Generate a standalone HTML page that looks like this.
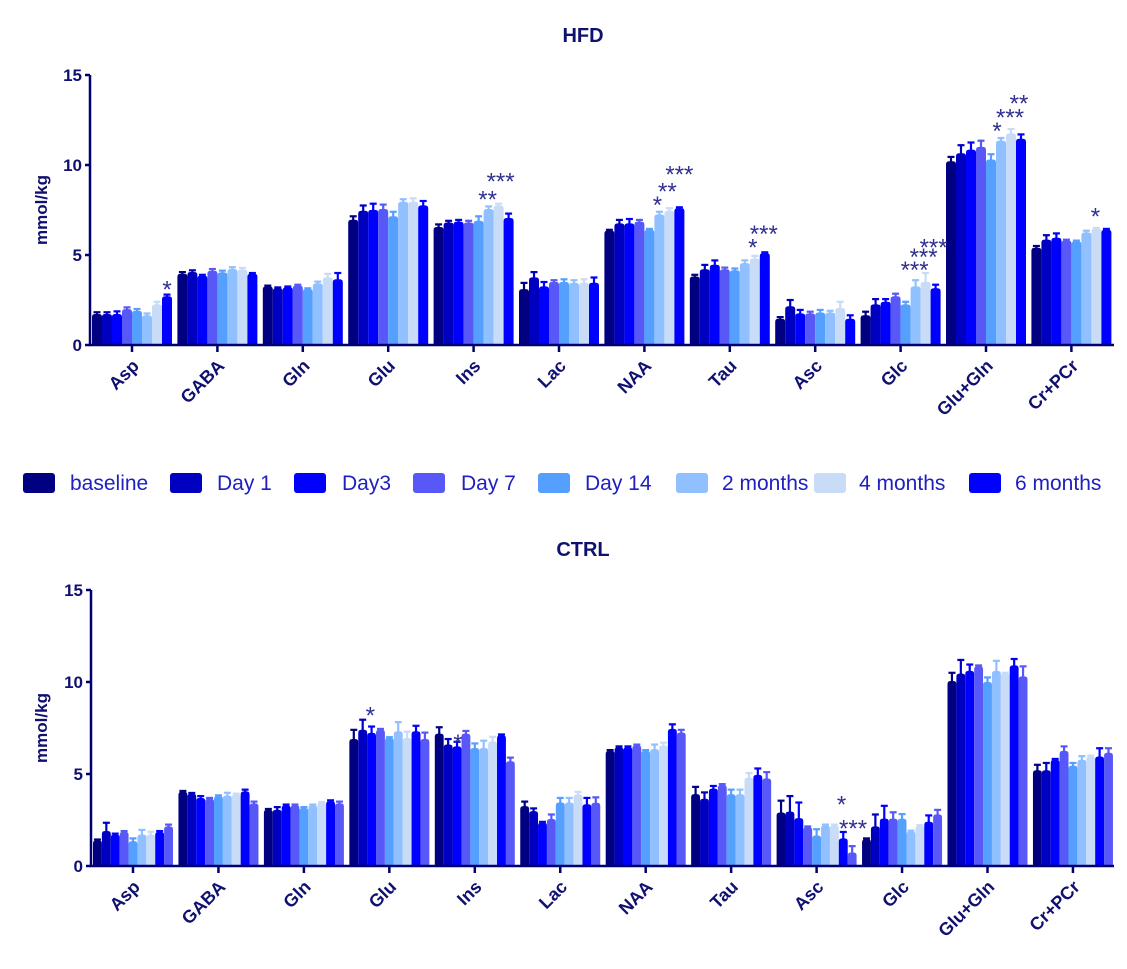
<!DOCTYPE html>
<html><head><meta charset="utf-8">
<style>
body{margin:0;background:#fff;}
svg{display:block;font-family:"Liberation Sans",Arial,sans-serif;}
</style></head>
<body>
<svg id="chart" width="1127" height="969" viewBox="0 0 1127 969" xmlns="http://www.w3.org/2000/svg"></svg>
<script>
const categories = ["Asp","GABA","Gln","Glu","Ins","Lac","NAA","Tau","Asc","Glc","Glu+Gln","Cr+PCr"];
const legendLabels = ["baseline","Day 1","Day3","Day 7","Day 14","2 months","4 months","6 months"];
const tickLabels = [0,5,10,15];
const hfdValues = [
 [1.67,1.67,1.67,1.94,1.85,1.6,2.2,2.65],
 [3.9,4.0,3.8,4.07,3.98,4.17,4.13,3.9],
 [3.2,3.1,3.15,3.25,3.05,3.37,3.7,3.6],
 [6.9,7.4,7.45,7.5,7.1,7.9,7.9,7.7],
 [6.5,6.75,6.8,6.75,6.85,7.5,7.7,7.0],
 [3.05,3.7,3.2,3.45,3.45,3.4,3.4,3.4],
 [6.3,6.7,6.7,6.8,6.35,7.2,7.4,7.55],
 [3.75,4.15,4.4,4.15,4.1,4.5,4.75,5.05],
 [1.4,2.1,1.7,1.7,1.75,1.75,2.0,1.4],
 [1.6,2.2,2.35,2.65,2.2,3.2,3.45,3.1],
 [10.15,10.6,10.8,10.95,10.25,11.3,11.7,11.4],
 [5.35,5.8,5.9,5.75,5.7,6.2,6.4,6.35]
];
const hfdErrors = [
 [0.15,0.15,0.2,0.15,0.15,0.15,0.2,0.15],
 [0.15,0.15,0.1,0.15,0.15,0.15,0.15,0.1],
 [0.1,0.1,0.1,0.1,0.1,0.15,0.25,0.4],
 [0.25,0.35,0.4,0.3,0.3,0.2,0.25,0.3],
 [0.2,0.15,0.15,0.15,0.3,0.2,0.15,0.3],
 [0.4,0.35,0.3,0.15,0.2,0.2,0.25,0.35],
 [0.1,0.25,0.3,0.15,0.1,0.2,0.2,0.1],
 [0.15,0.3,0.3,0.15,0.15,0.2,0.2,0.1],
 [0.15,0.4,0.25,0.15,0.2,0.15,0.4,0.25],
 [0.25,0.35,0.2,0.2,0.2,0.4,0.55,0.25],
 [0.3,0.5,0.45,0.4,0.35,0.2,0.3,0.3],
 [0.15,0.3,0.3,0.1,0.1,0.15,0.1,0.1]
];
const ctrlColorsIdx = [0,1,2,3,4,5,6,7,3];
const ctrlValues = [
 [1.34,1.85,1.66,1.8,1.3,1.66,1.66,1.8,2.1],
 [3.98,3.87,3.65,3.6,3.74,3.78,3.83,4.0,3.35],
 [3.0,3.0,3.24,3.24,3.1,3.24,3.38,3.47,3.35],
 [6.85,7.35,7.18,7.35,6.9,7.27,6.9,7.27,6.85],
 [7.14,6.55,6.45,7.14,6.36,6.36,6.72,7.05,5.64],
 [3.2,2.93,2.3,2.5,3.4,3.4,3.83,3.3,3.38],
 [6.2,6.4,6.4,6.5,6.2,6.3,6.5,7.4,7.2],
 [3.85,3.6,4.15,4.35,3.85,3.85,4.75,4.9,4.7],
 [2.85,2.9,2.55,2.05,1.6,2.15,2.15,1.45,0.68],
 [1.4,2.1,2.52,2.52,2.52,1.82,2.12,2.35,2.75],
 [10.0,10.4,10.55,10.8,9.95,10.55,10.4,10.85,10.25],
 [5.15,5.15,5.72,6.2,5.4,5.72,5.9,5.9,6.1]
];
const ctrlErrors = [
 [0.1,0.5,0.1,0.1,0.2,0.3,0.2,0.1,0.15],
 [0.1,0.1,0.15,0.1,0.1,0.2,0.1,0.15,0.15],
 [0.1,0.2,0.1,0.1,0.1,0.1,0.1,0.1,0.15],
 [0.55,0.6,0.4,0.1,0.1,0.55,0.4,0.35,0.4],
 [0.4,0.35,0.3,0.2,0.3,0.45,0.3,0.1,0.25],
 [0.3,0.2,0.1,0.3,0.3,0.3,0.2,0.4,0.35],
 [0.1,0.1,0.1,0.1,0.1,0.3,0.2,0.3,0.2],
 [0.45,0.4,0.2,0.1,0.3,0.3,0.3,0.4,0.4],
 [0.7,0.9,0.9,0.1,0.4,0.1,0.1,0.4,0.4],
 [0.1,0.7,0.75,0.4,0.3,0.1,0.1,0.4,0.3],
 [0.5,0.8,0.4,0.1,0.3,0.6,0.1,0.4,0.6],
 [0.35,0.45,0.1,0.3,0.2,0.25,0.1,0.5,0.3]
];
const hfdStars = [[0,7,3.3,"*"],[4,4.9,8.3,"**"],[4,6.2,9.3,"***"],[6,4.8,8.0,"*"],[6,5.8,8.75,"**"],[6,7.0,9.7,"***"],
 [7,5.8,5.65,"*"],[7,6.9,6.4,"***"],[9,4.9,4.4,"***"],[9,5.8,5.1,"***"],[9,6.8,5.65,"***"],
 [10,4.6,12.1,"*"],[10,5.9,12.85,"***"],[10,6.8,13.65,"**"],[11,5.9,7.35,"*"]];
const ctrlStars = [[3,1.86,8.4,"*"],[4,2.1,6.9,"*"],[8,6.8,3.55,"*"],[8,8.1,2.25,"***"]];

const colors = ["#000080","#0000c0","#0000ff","#5858f8","#55a0ff","#90c0ff","#c8dcf8","#0000ff"];
const svg = document.getElementById('chart');
const NS = "http://www.w3.org/2000/svg";
function mk(tag, attrs, parent){const e=document.createElementNS(NS,tag);for(const k in attrs)e.setAttribute(k,attrs[k]);(parent||svg).appendChild(e);return e;}

function drawPanel(cfg){
  const g = mk('g',{});
  
  
  const y = v => cfg.y0 - v*(cfg.y0-cfg.y15)/15;
  const cx = i => cfg.x0 + i*cfg.step;
  const nb = cfg.values[0].length, bw = cfg.groupW/nb;
  const t = mk('text',{x:583,y:cfg.titleY,'text-anchor':'middle','font-size':20,'font-weight':'bold',fill:'#101070'},g);
  t.textContent = cfg.title;
  
  
  const yl = mk('text',{x:0,y:0,'text-anchor':'middle','font-size':17,'font-weight':'bold',fill:'#101070',transform:`translate(47,${(cfg.y0+cfg.y15)/2}) rotate(-90)`},g);
  yl.textContent = 'mmol/kg';
  
  
  cfg.values.forEach((row,gi)=>{
    row.forEach((v,bi)=>{
      const x = cx(gi) - cfg.groupW/2 + bi*bw;
      const col = colors[cfg.colorIdx[bi]];
      const top = y(v), e = y(v+cfg.errors[gi][bi]);
      const ln = mk('line',{x1:x+bw/2,x2:x+bw/2,y1:top,y2:e,stroke:col,'stroke-width':2.2},g);
      
      
      const cap = mk('line',{x1:x+bw/2-3.5,x2:x+bw/2+3.5,y1:e,y2:e,stroke:col,'stroke-width':2.2},g);
      
      
      const r = mk('path',{d:`M${x},${cfg.y0} L${x},${top+2} Q${x},${top-1} ${x+3},${top-1} L${x+bw-3},${top-1} Q${x+bw},${top-1} ${x+bw},${top+2} L${x+bw},${cfg.y0} Z`,fill:col},g);
      
      
    });
  });
  const ax = mk('path',{d:`M${cfg.axX},${cfg.y15} L${cfg.axX},${cfg.y0} L${cfg.xEnd},${cfg.y0}`,fill:'none',stroke:'#000070','stroke-width':2.5},g);
  
  
  tickLabels.forEach(v=>{
    const tk = mk('line',{x1:cfg.axX-5,x2:cfg.axX,y1:y(v),y2:y(v),stroke:'#000070','stroke-width':2.5},g);
    
    
    const tl = mk('text',{x:cfg.axX-8,y:y(v)+6,'text-anchor':'end','font-size':17,'font-weight':'bold',fill:'#101070'},g);
    tl.textContent = v;
    
    
  });
  categories.forEach((c,i)=>{
    const tk = mk('line',{x1:cx(i),x2:cx(i),y1:cfg.y0,y2:cfg.y0+7,stroke:'#000070','stroke-width':2.5},g);
    
    
    const tl = mk('text',{x:0,y:0,'text-anchor':'end','font-size':18,'font-weight':'bold',fill:'#101070',transform:`translate(${cx(i)+8},${cfg.y0+22}) rotate(-45)`},g);
    tl.textContent = c;
    
    
  });
  cfg.stars.forEach(s=>{
    const sx = cx(s[0]) - cfg.groupW/2 + (s[1]+0.5)*bw;
    const st = mk('text',{x:sx,y:y(s[2])+12,'text-anchor':'middle','font-size':24,fill:'#303090'},g);
    st.textContent = s[3];
    
    
  });
}
drawPanel({name:'hfd-panel',title:'HFD',titleY:42,values:hfdValues,errors:hfdErrors,colorIdx:[0,1,2,3,4,5,6,7],
  y0:345,y15:75,x0:132,step:85.4,groupW:80,axX:90,xEnd:1114,stars:hfdStars});
drawPanel({name:'ctrl-panel',title:'CTRL',titleY:556,values:ctrlValues,errors:ctrlErrors,colorIdx:ctrlColorsIdx,
  y0:866,y15:590,x0:133,step:85.45,groupW:80,axX:91,xEnd:1114,stars:ctrlStars});

const legX = [23,170,294,413,538,676,814,969];
const legTX = [70,217,342,461,585,722,859,1015];
const lg = mk('g',{});


legendLabels.forEach((l,i)=>{
  const e = mk('g',{},lg);
  
  
  mk('rect',{x:legX[i],y:473,width:32,height:20,rx:3,fill:colors[i]},e);
  const t = mk('text',{x:legTX[i],y:490,'font-size':21,fill:'#2020c0'},e);
  t.textContent = l;
});
</script>
</body></html>
